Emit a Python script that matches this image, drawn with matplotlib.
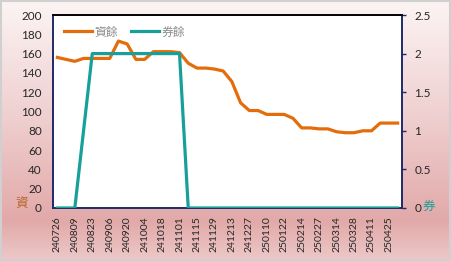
import numpy as np
import matplotlib
matplotlib.use('Agg')
import matplotlib.pyplot as plt
from matplotlib.colors import LinearSegmentedColormap
from matplotlib.ticker import FormatStrFormatter

# data
dates = ['240726', '240802', '240809', '240816', '240823', '240830', '240906', '240913',
         '240920', '240927', '241004', '241011', '241018', '241025', '241101', '241108',
         '241115', '241122', '241129', '241206', '241213', '241220', '241227', '250103',
         '250110', '250117', '250122', '250207', '250214', '250221', '250227', '250307',
         '250314', '250321', '250328', '250403', '250411', '250418', '250425', '250502']
margin_bal = [156, 154, 152, 155, 155, 155, 155, 173, 170, 154,
              154, 162, 162, 162, 161, 150, 145, 145, 144, 142,
              131, 109, 101, 101, 97, 97, 97, 93, 83, 83,
              82, 82, 79, 78, 78, 80, 80, 88, 88, 88]
short_bal = [0, 0, 0, 1, 2, 2, 2, 2, 2, 2,
             2, 2, 2, 2, 2, 0, 0, 0, 0, 0,
             0, 0, 0, 0, 0, 0, 0, 0, 0, 0,
             0, 0, 0, 0, 0, 0, 0, 0, 0, 0]

cjk = ['Noto Sans CJK TC', 'DejaVu Sans']
orange = '#e46c0a'
teal = '#17a09a'
navy = '#1f2a6b'

fig = plt.figure(figsize=(4.51, 2.61), dpi=100)

# pink gradient background
bg = fig.add_axes([0, 0, 1, 1], zorder=-10)
cmap = LinearSegmentedColormap.from_list('bg', [(0, '#fcf4f4'), (0.45, '#efcfcf'),
                                                (0.85, '#e2a9a9'), (1, '#edc8c8')])
bg.imshow(np.linspace(0, 1, 200).reshape(-1, 1), aspect='auto', cmap=cmap,
          extent=[0, 1, 0, 1])
bg.add_patch(plt.Rectangle((0.002, 0.004), 0.996, 0.992, fill=False,
                           edgecolor='#d0d0d0', lw=1.5))
bg.set_xlim(0, 1)
bg.set_ylim(0, 1)
bg.axis('off')

ax = fig.add_axes([53/451, 1-208/261, 349/451, 193/261])
ax.set_facecolor('white')
x = np.arange(len(dates))
l1, = ax.plot(x, margin_bal, color=orange, lw=2.3, label='資餘', zorder=3)
ax.set_xlim(-0.5, len(dates) - 0.5)
ax.set_ylim(0, 200)
ax.set_yticks(range(0, 201, 20))
ax.set_xticks(x[::2])
ax.set_xticklabels(dates[::2], rotation=90, fontsize=7.5, family='Lato', color='#262626')
ax.tick_params(axis='x', length=0, pad=6)
ax.tick_params(axis='y', length=0, pad=8, labelsize=8.5, labelcolor='#262626')
for t in ax.get_yticklabels():
    t.set_family('Lato')

ax2 = ax.twinx()
l2, = ax2.plot(x, short_bal, color=teal, lw=2.3, label='券餘', zorder=4)
ax2.set_ylim(0, 2.5)
ax2.set_yticks(np.arange(0, 2.51, 0.5))
ax2.yaxis.set_major_formatter(FormatStrFormatter('%g'))
ax2.tick_params(axis='y', direction='out', length=3, width=1, color=navy, pad=6,
                labelsize=8.5, labelcolor='#262626')
for t in ax2.get_yticklabels():
    t.set_family('Lato')

for a in (ax, ax2):
    a.spines['top'].set_color('black')
    a.spines['top'].set_linewidth(1.2)
    for s in ('left', 'right', 'bottom'):
        a.spines[s].set_color(navy)
        a.spines[s].set_linewidth(1.2)

leg = ax2.legend(handles=[l1, l2], loc='upper left', bbox_to_anchor=(0.0, 1.0),
                 ncol=2, frameon=False, handlelength=2.4, columnspacing=1.1,
                 handletextpad=0.2, borderaxespad=0.5,
                 prop={'family': cjk, 'size': 8.5})
for t in leg.get_texts():
    t.set_color('#8c8c8c')

fig.text(22/451, 1-204/261, '資', color='#b8652c', fontsize=9, family=cjk,
         ha='center', va='center')
fig.text(429/451, 1-206/261, '券', color=teal, fontsize=9, family=cjk,
         ha='center', va='center')

fig.savefig('out.png', dpi=100)
